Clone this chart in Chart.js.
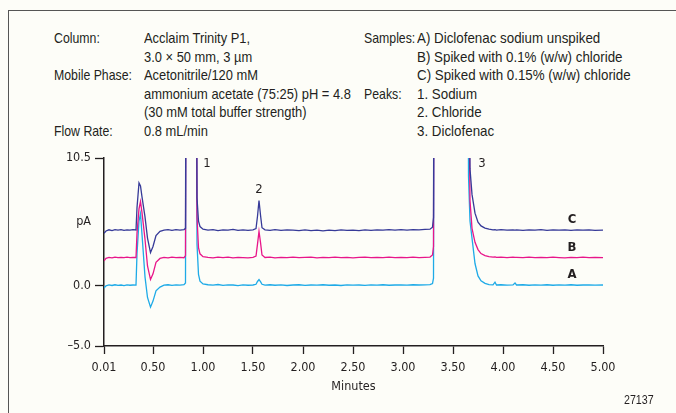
<!DOCTYPE html>
<html>
<head>
<meta charset="utf-8">
<script src="https://cdn.jsdelivr.net/npm/chart.js@4.4.1/dist/chart.umd.min.js"></script>
<style>
  html, body { margin: 0; padding: 0; background: #fdfdf8; }
  body {
    width: 676px; height: 413px; position: relative; overflow: hidden;
    font-family: "Liberation Sans", Arial, sans-serif;
    color: #231f20;
  }
  #frame { position: absolute; left: 8px; top: 10px; right: -2px; bottom: -2px;
    border-top: 1.5px solid #555; border-left: 1.5px solid #555; }
  .col { position: absolute; top: 29px; font-size: 15px; line-height: 18.5px; white-space: pre;
    transform: scaleX(0.82); transform-origin: 0 0; }
  #chartBox { position: absolute; left: 0; top: 0; width: 676px; height: 413px; }
  #figNo { position: absolute; left: 624px; top: 392px; font-size: 13px;
    transform: scaleX(0.82); transform-origin: 0 0; }
</style>
</head>
<body>
<div id="frame"></div>
<div class="col" style="left:54px">Column:

Mobile Phase:


Flow Rate:</div>
<div class="col" style="left:144px; transform: scaleX(0.86)">Acclaim Trinity P1,
3.0 × 50 mm, 3 µm
Acetonitrile/120 mM
ammonium acetate (75:25) pH = 4.8
(30 mM total buffer strength)
0.8 mL/min</div>
<div class="col" style="left:364px">Samples:


Peaks:</div>
<div class="col" style="left:417px; transform: scaleX(0.89)">A) Diclofenac sodium unspiked
B) Spiked with 0.1% (w/w) chloride
C) Spiked with 0.15% (w/w) chloride
1. Sodium
2. Chloride
3. Diclofenac</div>
<div id="chartBox"><canvas id="chromChart"></canvas></div>
<div id="figNo">27137</div>
<script>
const FONT = '"DejaVu Sans Condensed", "Liberation Sans", sans-serif';
const INK = "#231f20";

// retention time axis (min) shared by the three traces
const minutes = [
  0.01, 0.03, 0.06, 0.09, 0.12, 0.15, 0.18, 0.21, 0.24, 0.27, 0.30, 0.33,
  0.34, 0.36, 0.375, 0.39, 0.42, 0.445, 0.475, 0.50, 0.53, 0.57,
  0.61, 0.65, 0.69, 0.73, 0.77, 0.81, 0.825, 0.835, 0.925, 0.94, 0.955, 0.97,
  1.00, 1.05, 1.10, 1.15, 1.20, 1.25, 1.30, 1.35, 1.40, 1.45, 1.50,
  1.53, 1.545, 1.56, 1.575, 1.59, 1.62, 1.67, 1.72, 1.78, 1.84, 1.90, 1.96,
  2.02, 2.08, 2.14, 2.20, 2.26, 2.32, 2.38, 2.44, 2.50, 2.56, 2.62, 2.68,
  2.74, 2.80, 2.86, 2.92, 2.98, 3.04, 3.10, 3.16, 3.22, 3.27, 3.295, 3.305,
  3.315, 3.645, 3.655, 3.67, 3.69, 3.72, 3.75, 3.78, 3.82, 3.86, 3.90,
  3.92, 3.935, 3.98, 4.04, 4.10, 4.12, 4.135, 4.20, 4.26, 4.32, 4.38,
  4.44, 4.50, 4.56, 4.62, 4.68, 4.74, 4.80, 4.86, 4.92, 5.00
];

// pA, sample C (0.15% chloride)
const sampleC = [
  4.30, 4.48, 4.58, 4.52, 4.60, 4.55, 4.59, 4.54, 4.58, 4.55, 4.60, 4.57,
  6.40, 8.45, 8.20, 7.30, 5.65, 3.90, 2.70, 3.20, 4.10, 4.45,
  4.56, 4.60, 4.54, 4.59, 4.55, 4.60, 4.70, 40, 40, 7.20, 5.30, 4.85,
  4.63, 4.56, 4.60, 4.52, 4.58, 4.55, 4.61, 4.53, 4.58, 4.54, 4.57,
  4.68, 5.70, 7.00, 5.80, 4.75, 4.58, 4.54, 4.59, 4.53, 4.58, 4.55, 4.51,
  4.57, 4.52, 4.56, 4.50, 4.55, 4.52, 4.57, 4.53, 4.56, 4.52, 4.57, 4.54,
  4.58, 4.55, 4.59, 4.55, 4.60, 4.56, 4.59, 4.57, 4.61, 4.63, 4.80, 5.60,
  40, 40, 30, 9.60, 7.50, 5.95, 5.20, 4.90, 4.72, 4.63, 4.58,
  4.60, 4.56, 4.59, 4.55, 4.58, 4.56, 4.57, 4.54, 4.58, 4.55, 4.59,
  4.54, 4.57, 4.55, 4.58, 4.54, 4.57, 4.55, 4.58, 4.54, 4.56
];

// pA, sample B (0.1% chloride)
const sampleB = [
  2.02, 2.22, 2.30, 2.27, 2.33, 2.28, 2.31, 2.29, 2.32, 2.28, 2.31, 2.30,
  4.30, 6.30, 6.90, 6.00, 3.80, 1.60, 0.48, 0.95, 1.90, 2.22,
  2.30, 2.27, 2.33, 2.29, 2.31, 2.28, 2.45, 40, 40, 5.60, 3.10, 2.60,
  2.36, 2.30, 2.26, 2.32, 2.28, 2.33, 2.27, 2.31, 2.29, 2.26, 2.31,
  2.42, 3.40, 4.45, 3.55, 2.50, 2.30, 2.33, 2.27, 2.31, 2.29, 2.32, 2.28,
  2.30, 2.33, 2.27, 2.31, 2.28, 2.32, 2.29, 2.31, 2.27, 2.30, 2.33, 2.28,
  2.31, 2.29, 2.32, 2.28, 2.31, 2.29, 2.32, 2.28, 2.31, 2.33, 2.50, 3.20,
  40, 40, 20, 7.00, 4.70, 3.55, 2.95, 2.62, 2.45, 2.37, 2.33,
  2.35, 2.30, 2.33, 2.29, 2.32, 2.30, 2.31, 2.28, 2.32, 2.29, 2.31,
  2.28, 2.32, 2.29, 2.27, 2.31, 2.28, 2.32, 2.29, 2.31, 2.29
];

// pA, sample A (unspiked)
const sampleA = [
  -0.22, -0.04, 0.04, -0.01, 0.05, 0.00, 0.03, -0.02, 0.04, 0.01, 0.03, 0.02,
  2.60, 5.30, 5.90, 4.20, 0.70, -1.00, -1.80, -1.30, -0.45, -0.14,
  0.02, 0.05, 0.00, 0.04, 0.02, 0.05, 0.20, 40, 40, 3.40, 0.90, 0.35,
  0.12, 0.05, 0.02, 0.07, 0.00, 0.04, 0.03, -0.02, 0.04, 0.01, 0.03,
  0.09, 0.32, 0.47, 0.30, 0.09, 0.02, 0.05, 0.01, 0.04, -0.01, 0.03, 0.05,
  0.00, 0.03, 0.02, 0.05, 0.01, 0.03, -0.01, 0.04, 0.02, 0.03, 0.00, 0.04,
  0.02, 0.05, 0.01, 0.03, 0.04, 0.02, 0.05, 0.03, 0.04, 0.06, 0.15, 0.60,
  40, 40, 9.00, 5.30, 3.90, 1.80, 0.78, 0.38, 0.16, 0.06, 0.04,
  0.26, 0.03, 0.05, 0.02, 0.04, 0.20, 0.03, 0.05, 0.01, 0.04, 0.02,
  0.05, 0.01, 0.04, 0.02, 0.05, 0.01, 0.03, 0.04, 0.02, 0.03
];

const xTickValues = [0.01, 0.5, 1, 1.5, 2, 2.5, 3, 3.5, 4, 4.5, 5];
const xTickLabels = ["0.01", "0.50", "1.00", "1.50", "2.00", "2.50", "3.00", "3.50", "4.00", "4.50", "5.00"];
const yTickValues = [10.5, 5.25, 0, -5];
const yTickLabels = ["10.5", "pA", "0.0", "\u20135.0"];

const peakNumbers = ["1", "2", "3"];
const peakMinutes = [1.04, 1.56, 3.79];
const peakLabelHeights = [10.05, 7.9, 10.05];

const traceLetters = ["C", "B", "A"];
const traceLetterMinute = 4.69;
const traceLetterHeights = [5.45, 3.1, 0.85];

const peakLabelPlugin = {
  id: "peakLabels",
  afterDatasetsDraw(chart) {
    const { ctx, scales } = chart;
    ctx.save();
    ctx.fillStyle = INK;
    ctx.textAlign = "center";
    ctx.textBaseline = "middle";
    ctx.font = `13px ${FONT}`;
    peakNumbers.forEach((label, i) => {
      ctx.fillText(label, scales.x.getPixelForValue(peakMinutes[i]), scales.y.getPixelForValue(peakLabelHeights[i]));
    });
    ctx.font = `bold 13px ${FONT}`;
    traceLetters.forEach((label, i) => {
      ctx.fillText(label, scales.x.getPixelForValue(traceLetterMinute), scales.y.getPixelForValue(traceLetterHeights[i]));
    });
    ctx.restore();
  }
};

function traceDataset(values, color) {
  return {
    data: minutes.map((t, i) => ({ x: t, y: values[i] })),
    borderColor: color,
    borderWidth: 1.3,
    pointRadius: 0,
    tension: 0,
    fill: false
  };
}

Chart.defaults.font.family = FONT;
Chart.defaults.color = INK;

new Chart(document.getElementById("chromChart"), {
  type: "line",
  data: {
    datasets: [
      traceDataset(sampleC, "#363a98"),
      traceDataset(sampleB, "#e8168a"),
      traceDataset(sampleA, "#1eaae7")
    ]
  },
  options: {
    responsive: true,
    maintainAspectRatio: false,
    animation: false,
    events: [],
    layout: { padding: { top: 158, right: 73, bottom: 19, left: 0 } },
    plugins: { legend: { display: false }, tooltip: { enabled: false } },
    scales: {
      x: {
        type: "linear",
        min: 0.01,
        max: 5,
        afterBuildTicks: (axis) => { axis.ticks = xTickValues.map((v) => ({ value: v })); },
        afterFit: (axis) => { axis.height = 48; },
        ticks: {
          autoSkip: false,
          maxRotation: 0,
          padding: 6,
          font: { size: 12.5 },
          callback: (value, index) => xTickLabels[index]
        },
        grid: { drawOnChartArea: false, tickLength: 8, tickWidth: 1.3, color: INK },
        border: { display: true, color: INK, width: 1.5 },
        title: { display: true, text: "Minutes", font: { size: 12.5 }, padding: 0 }
      },
      y: {
        type: "linear",
        min: -5,
        max: 10.5,
        afterBuildTicks: (axis) => { axis.ticks = yTickValues.map((v) => ({ value: v })); },
        afterFit: (axis) => { axis.width = 104; },
        ticks: {
          padding: 4,
          font: { size: 12.5 },
          callback: (value, index) => yTickLabels[index]
        },
        grid: {
          drawOnChartArea: false,
          tickLength: 9,
          tickWidth: 1.3,
          color: (ctx) => (ctx.tick && ctx.tick.value === 5.25 ? "rgba(0,0,0,0)" : INK)
        },
        border: { display: true, color: INK, width: 1.5 }
      }
    }
  },
  plugins: [peakLabelPlugin]
});
</script>
</body>
</html>
